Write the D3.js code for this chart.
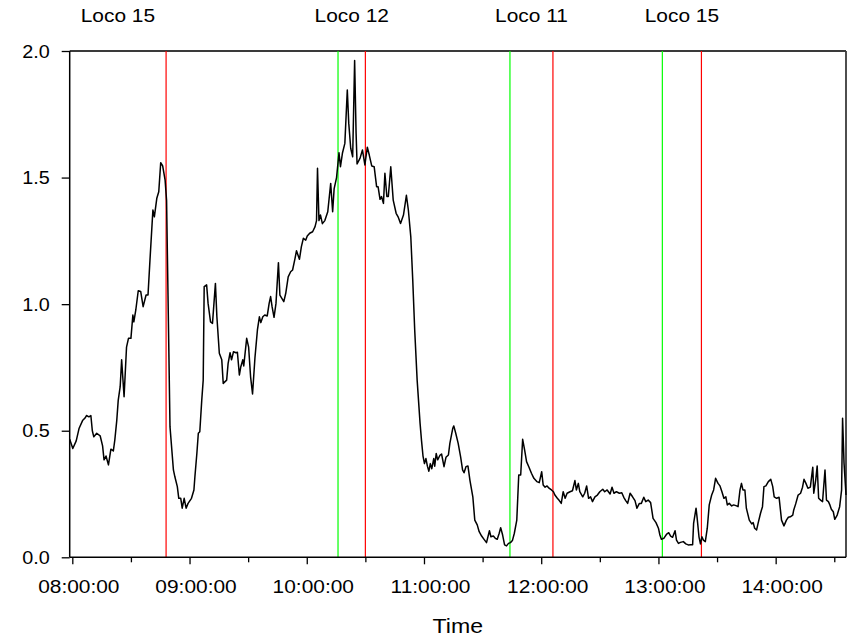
<!DOCTYPE html>
<html>
<head>
<meta charset="utf-8">
<script src="https://cdn.jsdelivr.net/npm/d3@7"></script>
<style>
  body { margin: 0; background: #fff; }
  svg { display: block; }
  text { font-family: "Liberation Sans", Arial, sans-serif; fill: #000; }
</style>
</head>
<body>
<svg id="chart" width="848" height="640"></svg>
<script>
// Sampled readings: clock time and measured value
const sampleTimes = [
  "07:58:40","08:00:15","08:02:00","08:03:30","08:05:15","08:06:30","08:07:15","08:08:30","08:09:30","08:10:15",
  "08:11:00","08:12:30","08:14:15","08:15:30","08:16:15","08:17:15","08:18:30","08:19:45","08:21:00","08:21:45",
  "08:22:45","08:23:30","08:24:30","08:25:15","08:26:30","08:27:45","08:28:45","08:30:00","08:31:00","08:31:30",
  "08:32:30","08:33:45","08:35:00","08:36:15","08:37:45","08:38:45","08:39:45","08:41:15","08:42:00","08:43:15",
  "08:44:15","08:45:15","08:46:15","08:47:30","08:48:15","08:50:00","08:51:45","08:52:30","08:53:45","08:54:30",
  "08:55:30","08:56:15","08:57:15","08:58:15","08:59:15","09:01:00","09:02:15","09:02:45","09:03:45","09:04:30",
  "09:05:15","09:06:15","09:07:00","09:07:30","09:08:45","09:09:30","09:10:45","09:11:45","09:12:30","09:13:15",
  "09:14:00","09:15:15","09:16:30","09:17:15","09:19:00","09:19:45","09:20:45","09:21:30","09:22:30","09:23:45",
  "09:24:30","09:25:30","09:26:15","09:27:15","09:27:45","09:29:15","09:30:15","09:31:15","09:32:15","09:33:30",
  "09:34:45","09:35:45","09:36:30","09:37:30","09:38:30","09:39:45","09:40:45","09:41:30","09:42:15","09:43:15",
  "09:44:15","09:45:30","09:46:15","09:47:15","09:48:15","09:49:15","09:50:30","09:51:45","09:52:45","09:54:00",
  "09:54:45","09:56:15","09:57:15","09:58:15","09:59:30","10:00:15","10:01:30","10:03:00","10:04:15","10:05:00",
  "10:05:30","10:06:15","10:07:00","10:08:00","10:09:15","10:10:45","10:12:15","10:13:15","10:14:00","10:15:15",
  "10:16:30","10:17:15","10:18:15","10:19:30","10:20:45","10:21:30","10:22:30","10:23:30","10:24:30","10:25:15",
  "10:25:45","10:27:15","10:28:30","10:29:45","10:31:00","10:32:00","10:33:15","10:34:30","10:35:45","10:36:30",
  "10:37:30","10:38:15","10:39:15","10:40:00","10:41:00","10:41:45","10:43:00","10:44:15","10:45:45","10:46:45",
  "10:48:00","10:49:30","10:51:00","10:52:00","10:53:15","10:54:15","10:55:15","10:56:30","10:58:00","10:58:45",
  "10:59:30","11:00:15","11:01:00","11:01:45","11:02:30","11:03:15","11:04:00","11:05:00","11:05:30","11:06:15",
  "11:07:00","11:08:15","11:09:00","11:10:15","11:11:15","11:12:30","11:13:15","11:14:45","11:15:15","11:16:15",
  "11:17:30","11:18:45","11:19:45","11:20:30","11:21:30","11:22:30","11:23:30","11:25:00","11:26:00","11:27:15",
  "11:28:15","11:29:30","11:30:45","11:32:00","11:33:30","11:34:15","11:35:30","11:36:30","11:37:30","11:38:30",
  "11:39:15","11:40:15","11:41:15","11:42:15","11:43:15","11:44:15","11:45:15","11:46:15","11:47:30","11:48:30",
  "11:49:30","11:50:30","11:51:30","11:52:30","11:53:45","11:55:00","11:56:15","11:57:45","11:59:00","12:00:15",
  "12:01:00","12:02:00","12:03:00","12:04:00","12:05:15","12:06:15","12:07:00","12:08:15","12:09:15","12:10:15",
  "12:11:15","12:12:15","12:13:15","12:14:45","12:16:00","12:17:15","12:18:00","12:19:00","12:19:45","12:21:15",
  "12:22:15","12:23:15","12:24:15","12:25:15","12:26:15","12:27:30","12:28:45","12:30:00","12:31:30","12:32:30",
  "12:33:45","12:35:15","12:36:15","12:37:15","12:38:30","12:40:00","12:41:15","12:42:15","12:43:15","12:44:15",
  "12:45:30","12:46:45","12:48:00","12:49:00","12:50:15","12:51:15","12:52:30","12:53:30","12:54:45","12:56:00",
  "12:57:15","12:58:45","13:00:00","13:00:45","13:01:30","13:02:45","13:04:15","13:05:15","13:06:15","13:07:15",
  "13:08:30","13:09:15","13:10:15","13:11:15","13:12:45","13:14:00","13:15:15","13:16:30","13:17:30","13:18:00",
  "13:19:15","13:19:45","13:20:45","13:21:30","13:22:15","13:23:00","13:24:00","13:25:00","13:26:00","13:27:15",
  "13:28:15","13:29:15","13:30:30","13:31:30","13:32:30","13:33:30","13:34:30","13:35:15","13:36:15","13:37:30",
  "13:38:30","13:40:00","13:40:45","13:41:45","13:42:30","13:43:15","13:44:15","13:45:00","13:46:30","13:47:45",
  "13:48:30","13:49:15","13:50:15","13:51:00","13:52:15","13:53:15","13:54:00","13:55:00","13:56:15","13:57:30",
  "13:58:30","13:59:15","14:00:30","14:01:45","14:03:00","14:04:15","14:05:30","14:06:30","14:07:30","14:08:45",
  "14:09:15","14:10:15","14:11:30","14:12:45","14:13:45","14:14:30","14:15:30","14:16:30","14:17:45","14:19:00",
  "14:19:30","14:20:30","14:21:15","14:22:00","14:23:00","14:24:00","14:25:15","14:26:00","14:27:00","14:27:45",
  "14:28:30","14:29:30","14:30:15","14:31:30","14:32:45","14:33:45","14:34:15","14:35:00","14:36:00"
];
const sampleValues = [
  0.466,0.43,0.46,0.51,0.54,0.55,0.56,0.555,0.56,0.50,
  0.476,0.49,0.48,0.44,0.385,0.40,0.365,0.427,0.42,0.463,
  0.54,0.62,0.674,0.78,0.634,0.83,0.865,0.865,0.957,0.93,
  0.977,1.053,1.05,0.99,1.036,1.036,1.174,1.372,1.345,1.418,
  1.444,1.559,1.546,1.49,1.41,0.516,0.345,0.318,0.279,0.233,
  0.233,0.194,0.233,0.194,0.213,0.233,0.266,0.318,0.41,0.49,
  0.496,0.62,0.70,1.069,1.076,1.003,0.93,0.924,1.003,1.082,
  0.95,0.806,0.78,0.687,0.70,0.766,0.808,0.78,0.812,0.808,
  0.81,0.72,0.753,0.78,0.756,0.865,0.83,0.713,0.645,0.79,
  0.898,0.95,0.927,0.95,0.957,0.953,1.003,1.03,0.99,0.948,
  1.003,1.164,1.036,1.023,1.01,1.043,1.108,1.128,1.135,1.181,
  1.211,1.177,1.227,1.26,1.253,1.269,1.28,1.286,1.306,1.33,
  1.537,1.33,1.352,1.318,1.33,1.365,1.477,1.365,1.455,1.50,
  1.598,1.543,1.596,1.635,1.846,1.714,1.616,1.582,1.962,1.675,
  1.554,1.576,1.609,1.55,1.62,1.589,1.546,1.543,1.464,1.464,
  1.414,1.425,1.398,1.517,1.425,1.425,1.543,1.411,1.359,1.345,
  1.319,1.352,1.43,1.372,1.266,1.095,0.898,0.70,0.529,0.46,
  0.40,0.37,0.39,0.36,0.34,0.37,0.35,0.39,0.36,0.41,
  0.385,0.404,0.408,0.358,0.395,0.404,0.45,0.51,0.519,0.49,
  0.45,0.397,0.345,0.334,0.358,0.361,0.305,0.239,0.147,0.128,
  0.101,0.084,0.071,0.058,0.105,0.081,0.084,0.075,0.071,0.095,
  0.117,0.088,0.049,0.045,0.055,0.058,0.066,0.095,0.147,0.325,
  0.325,0.466,0.424,0.378,0.356,0.332,0.312,0.299,0.295,0.338,
  0.286,0.277,0.282,0.273,0.266,0.259,0.246,0.233,0.224,0.213,
  0.259,0.233,0.253,0.259,0.263,0.303,0.266,0.292,0.259,0.239,
  0.253,0.282,0.233,0.239,0.22,0.239,0.246,0.259,0.269,0.259,
  0.266,0.25,0.277,0.253,0.259,0.253,0.255,0.237,0.224,0.213,
  0.253,0.239,0.224,0.194,0.213,0.213,0.237,0.22,0.226,0.216,
  0.154,0.137,0.115,0.088,0.071,0.075,0.092,0.097,0.084,0.079,
  0.105,0.068,0.055,0.059,0.062,0.053,0.049,0.05,0.05,0.134,
  0.194,0.16,0.081,0.053,0.081,0.068,0.062,0.115,0.207,0.246,
  0.266,0.312,0.292,0.282,0.259,0.233,0.239,0.207,0.213,0.203,
  0.207,0.203,0.20,0.266,0.292,0.266,0.266,0.194,0.147,0.132,
  0.137,0.115,0.108,0.134,0.174,0.20,0.279,0.282,0.299,0.308,
  0.279,0.239,0.233,0.237,0.147,0.124,0.147,0.158,0.16,0.167,
  0.187,0.211,0.246,0.253,0.277,0.308,0.292,0.273,0.277,0.356,
  0.253,0.305,0.361,0.233,0.226,0.22,0.345,0.226,0.22,0.207,
  0.19,0.18,0.15,0.167,0.20,0.266,0.549,0.371,0.246
];

// Locomotive visits: arrival (green) and departure (red); null = already present
const locoNames  = ["Loco 15", "Loco 12", "Loco 11", "Loco 15"];
const arrivals   = [null, "10:16:00", "11:44:00", "13:02:00"];
const departures = ["08:48:00", "10:30:00", "12:06:00", "13:22:00"];

const yTickValues = [0, 0.5, 1.0, 1.5, 2.0];
const xAxisTitle = "Time";

const parseTime = d3.timeParse("%H:%M:%S");
const series = sampleTimes.map((t, i) => ({ t: parseTime(t), v: sampleValues[i] }));

const plot = { left: 69.7, right: 846, top: 51, bottom: 557.3 };
const svg = d3.select("#chart");

const x = d3.scaleTime()
  .domain(d3.extent(series, d => d.t))
  .range([plot.left, plot.right]);
const y = d3.scaleLinear()
  .domain([0, 2])
  .range([plot.bottom, plot.top]);

const font = "Liberation Sans, Arial, sans-serif";
const stretch = "scale(1.1,1)";

// Frame: top and right edges
svg.append("line")
  .attr("x1", plot.left).attr("x2", plot.right)
  .attr("y1", plot.top).attr("y2", plot.top)
  .attr("stroke", "#3a3a3a").attr("stroke-width", 1.8);
svg.append("line")
  .attr("x1", plot.right).attr("x2", plot.right)
  .attr("y1", plot.top).attr("y2", plot.bottom)
  .attr("stroke", "#3a3a3a").attr("stroke-width", 1.8);

// Arrival / departure markers
const domainStart = x.domain()[0];
const visits = locoNames.map((name, i) => ({
  name,
  arr: arrivals[i] ? parseTime(arrivals[i]) : null,
  dep: parseTime(departures[i])
}));

visits.forEach(v => {
  if (v.arr) {
    svg.append("line")
      .attr("x1", x(v.arr)).attr("x2", x(v.arr))
      .attr("y1", plot.top).attr("y2", plot.bottom)
      .attr("stroke", "#00ff00").attr("stroke-width", 1.2);
  }
  svg.append("line")
    .attr("x1", x(v.dep)).attr("x2", x(v.dep))
    .attr("y1", plot.top).attr("y2", plot.bottom)
    .attr("stroke", "#ff0000").attr("stroke-width", 1.2);

  const mid = (x(v.arr || domainStart) + x(v.dep)) / 2;
  svg.append("text")
    .attr("transform", `translate(${mid},22) ${stretch}`)
    .attr("text-anchor", "middle")
    .style("font-size", "19px")
    .text(v.name);
});

// Data line
const line = d3.line().x(d => x(d.t)).y(d => y(d.v));
svg.append("path")
  .datum(series)
  .attr("d", line)
  .attr("fill", "none")
  .attr("stroke", "#000")
  .attr("stroke-width", 1.5)
  .attr("stroke-linejoin", "round");

// X axis: hourly labelled ticks plus half-hour minor ticks
const t0 = parseTime("08:00:00");
const hourTicks = d3.timeHour.range(t0, x.domain()[1]);
const halfTicks = d3.timeMinute.every(30).range(t0, x.domain()[1])
  .filter(d => d.getMinutes() === 30);

const xMinor = svg.append("g")
  .attr("transform", `translate(0,${plot.bottom})`)
  .call(d3.axisBottom(x).tickValues(halfTicks).tickSize(5).tickSizeOuter(0).tickFormat(""));
xMinor.select(".domain").remove();

const xMajor = svg.append("g")
  .attr("transform", `translate(0,${plot.bottom})`)
  .call(d3.axisBottom(x).tickValues(hourTicks).tickSize(7).tickSizeOuter(0)
    .tickFormat(d3.timeFormat("%H:%M:%S")));
xMajor.select(".domain").remove();
svg.selectAll(".tick line").attr("stroke", "#000").attr("stroke-width", 1.3);
xMajor.selectAll(".tick text")
  .attr("y", null).attr("dy", null)
  .attr("transform", `translate(6,36) ${stretch}`)
  .attr("text-anchor", "middle")
  .style("font-family", font).style("font-size", "19px");

// Y axis
const yAxis = svg.append("g")
  .attr("transform", `translate(${plot.left},0)`)
  .call(d3.axisLeft(y).tickValues(yTickValues).tickSize(8).tickSizeOuter(0)
    .tickFormat(d3.format(".1f")));
yAxis.select(".domain").remove();
yAxis.selectAll(".tick line").attr("stroke", "#000").attr("stroke-width", 1.3);
yAxis.selectAll(".tick text")
  .attr("x", null).attr("dy", null)
  .attr("transform", `translate(-20,6) ${stretch}`)
  .attr("text-anchor", "end")
  .style("font-family", font).style("font-size", "18px");

// Left and bottom axis lines
svg.append("line")
  .attr("x1", plot.left).attr("x2", plot.left)
  .attr("y1", plot.top).attr("y2", plot.bottom)
  .attr("stroke", "#000").attr("stroke-width", 1.5);
svg.append("line")
  .attr("x1", plot.left).attr("x2", plot.right)
  .attr("y1", plot.bottom).attr("y2", plot.bottom)
  .attr("stroke", "#000").attr("stroke-width", 1.5);

// Axis title
svg.append("text")
  .attr("transform", `translate(${(plot.left + plot.right) / 2},633) ${stretch}`)
  .attr("text-anchor", "middle")
  .style("font-size", "21px")
  .text(xAxisTitle);
</script>
</body>
</html>
